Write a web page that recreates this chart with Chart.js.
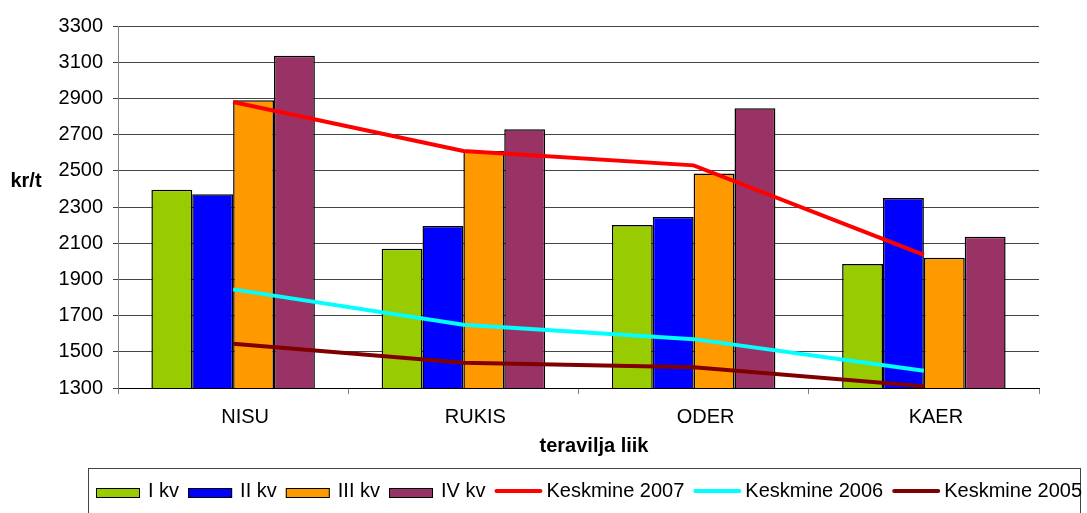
<!DOCTYPE html>
<html>
<head>
<meta charset="utf-8">
<script src="https://cdn.jsdelivr.net/npm/chart.js@4"></script>
<style>
  html, body { margin: 0; padding: 0; background: #fff; overflow: hidden; }
  canvas { display: block; }
</style>
</head>
<body>
<canvas id="graphique" width="1087" height="513"></canvas>
<script>
// Données (kr/t)
const categories = ["NISU", "RUKIS", "ODER", "KAER"];
const kv1 = [2395, 2070, 2200, 1985];
const kv2 = [2370, 2195, 2245, 2350];
const kv3 = [2890, 2610, 2485, 2020];
const kv4 = [3135, 2730, 2845, 2135];
const keskmine2007 = [2880, 2610, 2530, 2035];
const keskmine2006 = [1845, 1650, 1570, 1395];
const keskmine2005 = [1545, 1440, 1415, 1310];
const yTicks = [1300, 1500, 1700, 1900, 2100, 2300, 2500, 2700, 2900, 3100, 3300];

const police = "'Liberation Sans', Arial, sans-serif";

function barre(label, data, couleur) {
    return {
        type: "bar",
        label: label,
        data: data,
        backgroundColor: couleur,
        borderColor: "#000",
        borderWidth: 1.5,
        borderSkipped: "bottom",
        order: 2
    };
}

function ligne(label, data, couleur) {
    return {
        type: "line",
        label: label,
        data: data,
        borderColor: couleur,
        backgroundColor: couleur,
        borderWidth: 4,
        pointRadius: 0,
        tension: 0,
        fill: false,
        order: 1
    };
}

// Textes des axes et légende encadrée, dessinés après le graphique
const decor = {
    id: "decor",
    afterDraw(chart) {
        const ctx = chart.ctx;
        ctx.save();
        ctx.fillStyle = "#000";
        ctx.font = "bold 20px " + police;
        ctx.textAlign = "center";
        ctx.textBaseline = "middle";
        ctx.fillText("kr/t", 26, 181);
        ctx.fillText("teravilja liik", 594, 446);

        // cadre de la légende
        ctx.strokeStyle = "#444";
        ctx.lineWidth = 1;
        ctx.strokeRect(88.5, 468.5, 992, 60);

        ctx.font = "20px " + police;
        ctx.textAlign = "left";
        let x = 96;
        chart.data.datasets.forEach(ds => {
            if (ds.type === "bar") {
                ctx.fillStyle = ds.backgroundColor;
                ctx.fillRect(x, 488, 44, 10);
                ctx.strokeStyle = "#000";
                ctx.strokeRect(x + 0.5, 488.5, 43, 9);
                x += 44 + 8;
            } else {
                ctx.strokeStyle = ds.borderColor;
                ctx.lineWidth = 4;
                ctx.lineCap = "round";
                ctx.beginPath();
                ctx.moveTo(x + 2, 491);
                ctx.lineTo(x + 46, 491);
                ctx.stroke();
                ctx.lineWidth = 1;
                x += 48 + 4;
            }
            ctx.fillStyle = "#000";
            ctx.fillText(ds.label, x, 491);
            x += ctx.measureText(ds.label).width + 9;
        });
        ctx.restore();
    }
};

const config = {
    data: {
        labels: categories,
        datasets: [
            barre("I kv", kv1, "#99CC00"),
            barre("II kv", kv2, "#0000FF"),
            barre("III kv", kv3, "#FF9900"),
            barre("IV kv", kv4, "#993366"),
            ligne("Keskmine 2007", keskmine2007, "#FF0000"),
            ligne("Keskmine 2006", keskmine2006, "#00FFFF"),
            ligne("Keskmine 2005", keskmine2005, "#800000")
        ]
    },
    options: {
        responsive: false,
        animation: false,
        devicePixelRatio: 1,
        layout: { padding: { top: 26, right: 48, left: 0, bottom: 0 } },
        datasets: {
            bar: { categoryPercentage: 0.71, barPercentage: 1.0 }
        },
        plugins: {
            legend: { display: false },
            tooltip: { enabled: false }
        },
        scales: {
            x: {
                afterFit(scale) { scale.height = 125; },
                grid: {
                    drawOnChartArea: false,
                    drawTicks: true,
                    tickLength: 6,
                    color: "#808080",
                    offset: true
                },
                border: { display: true, color: "#000" },
                ticks: {
                    color: "#000",
                    font: { family: police, size: 20 },
                    padding: 11,
                    labelOffset: 12
                }
            },
            y: {
                min: 1300,
                max: 3300,
                afterFit(scale) { scale.width = 118; },
                afterBuildTicks(scale) { scale.ticks = yTicks.map(v => ({ value: v })); },
                grid: { color: "#444", tickLength: 5 },
                border: { display: true, color: "#808080" },
                ticks: {
                    color: "#000",
                    font: { family: police, size: 20 },
                    padding: 10,
                    callback: value => String(value)
                }
            }
        }
    },
    plugins: [decor]
};

const graphique = new Chart(document.querySelector("#graphique"), config);
</script>
</body>
</html>
